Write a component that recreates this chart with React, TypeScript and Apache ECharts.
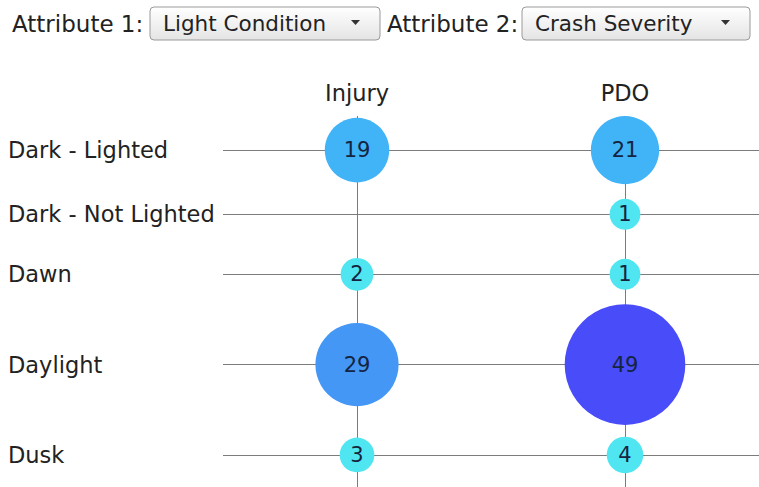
import React, { useEffect, useRef } from "react";
import * as echarts from "echarts";

const rowNames = ["Dark - Lighted", "Dark - Not Lighted", "Dawn", "Daylight", "Dusk"];
const colNames = ["Injury", "PDO"];
const injuryCounts = [19, 0, 2, 29, 3];
const pdoCounts = [21, 1, 1, 49, 4];
const attribute1 = "Light Condition";
const attribute2 = "Crash Severity";

const FONT = "DejaVu Sans";

const sizeOf = (v: number) => 29 + 1.87 * v;

export default function App() {
  const ref = useRef<HTMLDivElement>(null);
  useEffect(() => {
    if (!ref.current) return;
    const chart = echarts.init(ref.current, null, { renderer: "svg" });

    const gridTop = 116;
    const gridHeight = 487 - gridTop;
    const series = [injuryCounts, pdoCounts];
    const rowHeights = rowNames.map((_, i) => {
      const ds = series.map((s) => s[i]).filter((v) => v > 0).map(sizeOf);
      return Math.max(60, ...ds);
    });
    const centers: number[] = [];
    let acc = 0;
    rowHeights.forEach((h) => {
      centers.push(acc + h / 2);
      acc += h;
    });

    const points: any[] = [];
    series.forEach((s, j) => {
      s.forEach((v, i) => {
        if (v > 0) points.push([colNames[j], centers[i], v]);
      });
    });

    const colorOf = (v: number) => {
      if (v <= 5) return "#4fe6f1";
      if (v <= 25) return "#41b3f7";
      if (v <= 35) return "#4497f5";
      return "#494cf9";
    };

    const dropdown = (x: number, w: number, text: string) => ({
      type: "group",
      children: [
        {
          type: "rect",
          shape: { x, y: 7, width: w, height: 33, r: 4 },
          style: {
            fill: new echarts.graphic.LinearGradient(0, 0, 0, 1, [
              { offset: 0, color: "#ffffff" },
              { offset: 1, color: "#e4e4e4" },
            ]),
            stroke: "#9a9a9a",
            lineWidth: 1,
          },
        },
        {
          type: "text",
          x: x + 13,
          y: 23.5,
          style: {
            text,
            font: `21.5px '${FONT}'`,
            fill: "#222",
            verticalAlign: "middle",
            align: "left",
          },
        },
        {
          type: "polygon",
          shape: {
            points: [
              [x + w - 29, 20],
              [x + w - 20, 20],
              [x + w - 24.5, 25],
            ],
          },
          style: { fill: "#333" },
        },
      ],
    });

    chart.setOption({
      animation: false,
      backgroundColor: "#ffffff",
      grid: { left: 223, right: 0, top: gridTop, bottom: 0, containLabel: false },
      xAxis: {
        type: "category",
        data: colNames,
        position: "top",
        boundaryGap: true,
        axisLine: { show: false },
        axisTick: { show: false },
        splitLine: { show: false },
        axisLabel: {
          margin: 12,
          fontFamily: FONT,
          fontSize: 22.5,
          color: "#222",
        },
      },
      yAxis: {
        type: "value",
        inverse: true,
        min: 0,
        max: gridHeight,
        axisLine: { show: false },
        axisTick: { show: false },
        splitLine: { show: false },
        axisLabel: {
          customValues: centers,
          align: "left",
          margin: 215,
          fontFamily: FONT,
          fontSize: 22.5,
          color: "#222",
          formatter: (val: number) => {
            let best = 0;
            centers.forEach((c, i) => {
              if (Math.abs(c - val) < Math.abs(centers[best] - val)) best = i;
            });
            return rowNames[best];
          },
        },
      },
      graphic: [
        {
          type: "text",
          x: 12,
          y: 23.5,
          style: {
            text: "Attribute 1:",
            font: `23px '${FONT}'`,
            fill: "#222",
            verticalAlign: "middle",
          },
        },
        dropdown(150, 230, attribute1),
        {
          type: "text",
          x: 387,
          y: 23.5,
          style: {
            text: "Attribute 2:",
            font: `23px '${FONT}'`,
            fill: "#222",
            verticalAlign: "middle",
          },
        },
        dropdown(522, 228, attribute2),
      ],
      series: [
        {
          type: "scatter",
          data: [],
          z: 1,
          silent: true,
          markLine: {
            z: 1,
            silent: true,
            symbol: "none",
            animation: false,
            label: { show: false },
            lineStyle: { color: "#7c7c7c", width: 1, type: "solid" },
            emphasis: { disabled: true },
            data: [
              ...centers.map((c) => ({ yAxis: c })),
              ...colNames.map((c) => ({ xAxis: c })),
            ],
          },
        },
        {
          type: "scatter",
          z: 10,
          data: points,
          symbolSize: (d: any) => sizeOf(d[2]),
          itemStyle: {
            color: (p: any) => colorOf(p.data[2]),
            opacity: 1,
          },
          label: {
            show: true,
            position: "inside",
            formatter: (p: any) => String(p.data[2]),
            fontFamily: FONT,
            fontSize: 21,
            color: "#15243f",
          },
        },
      ],
    });

    return () => chart.dispose();
  }, []);

  return (
    <div
      ref={ref}
      style={{ position: "fixed", left: 0, top: 0, width: 759, height: 487, background: "#fff" }}
    />
  );
}
